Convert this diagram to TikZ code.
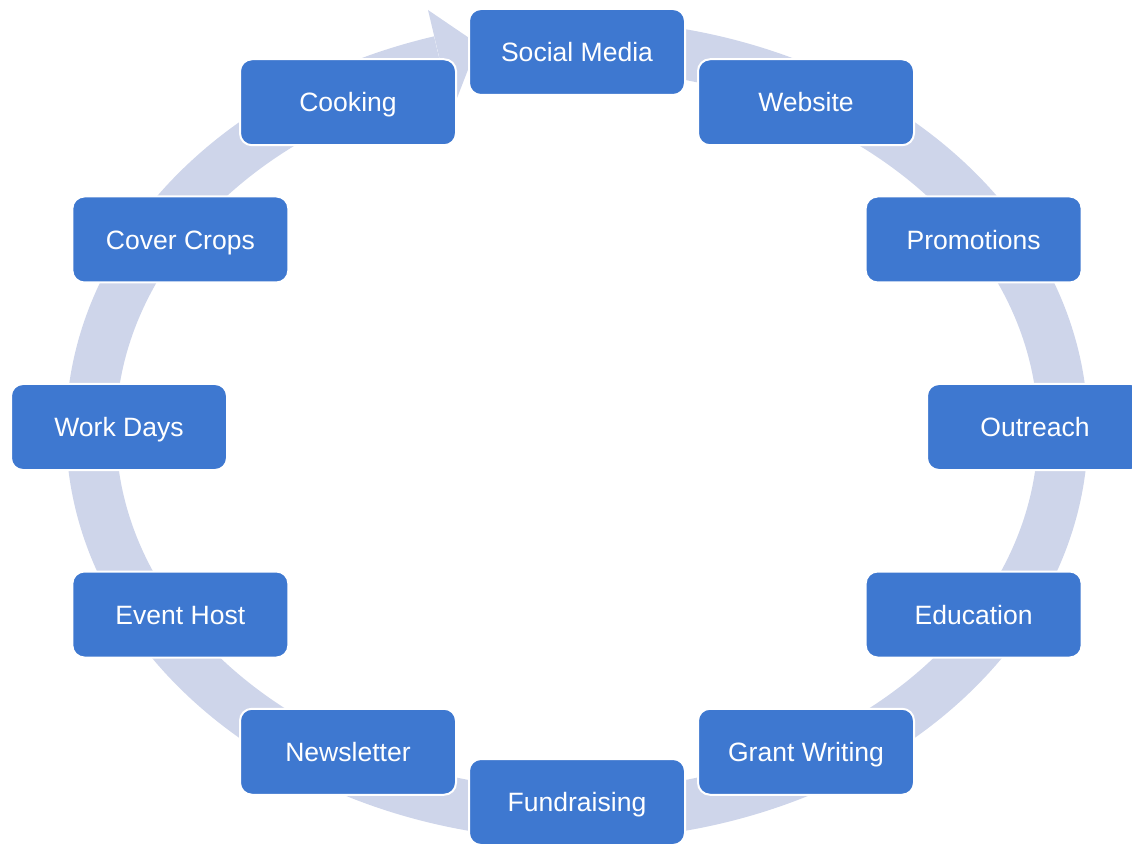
\documentclass[tikz,border=0pt]{standalone}
\usepackage{fontspec}
\setmainfont{Liberation Sans}
\definecolor{boxblue}{HTML}{3E78D0}
\definecolor{ringblue}{HTML}{CED5EA}
\begin{document}
\begin{tikzpicture}[x=0.75pt, y=0.75pt,
  topic/.style={draw=white, line width=1.5pt, fill=boxblue, rounded corners=9pt,
    minimum width=162pt, minimum height=64.5pt, inner sep=0pt, text=white,
    text height=14.3pt, text depth=0pt,
    font=\fontsize{19.9}{24}\selectfont},
  ring/.style={draw=ringblue, line width=37.5pt}]
  \useasboundingbox (0,0) rectangle (1132,844);
  \clip (0,0) rectangle (1132,844);
  \coordinate (hub) at (577,414);
  \draw[ring] (hub) ++(92:364.5pt and 288.75pt)
    arc[start angle=92, end angle=-253.6, x radius=364.5pt, y radius=288.75pt];
  \coordinate (headback) at (428,834);
  \coordinate (headtip) at (478,800);
  \coordinate (headfoot) at (452,733);
  \fill[ringblue] (headback) -- (headtip) -- (headfoot) -- cycle;
  \foreach \lbl [count=\i from 0] in {Social Media, Website, Promotions, Outreach,
      Education, Grant Writing, Fundraising, Newsletter, Event Host, Work Days,
      Cover Crops, Cooking}
    \node[topic] (item\i) at ({577+458*sin(30*\i)}, {417+375*cos(30*\i)}) {\lbl};
\end{tikzpicture}
\end{document}
